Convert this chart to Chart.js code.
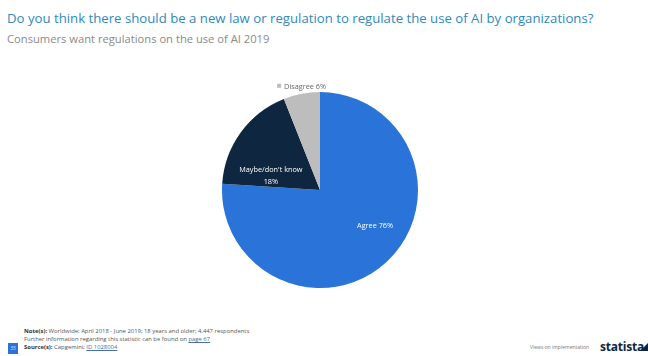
<!DOCTYPE html>
<html lang="en">
<head>
    <meta charset="UTF-8">
    <title>Consumers want regulations on the use of AI 2019</title>
    <script src="https://cdn.jsdelivr.net/npm/chart.js"></script>
    <style>
        body {
            margin: 0;
            width: 648px;
            height: 356px;
            background-color: #ffffff;
            font-family: "Open Sans", Arial, sans-serif;
            position: relative;
            overflow: hidden;
        }
        #title {
            position: absolute;
            left: 7px;
            top: 9px;
            font-size: 13.2px;
            color: #2f8ac0;
            white-space: nowrap;
        }
        #subtitle {
            position: absolute;
            left: 7px;
            top: 31px;
            font-size: 11.2px;
            color: #8a8a8a;
            white-space: nowrap;
        }
        #chartBox {
            position: absolute;
            left: 200px;
            top: 70px;
            width: 240px;
            height: 240px;
        }
        .note {
            position: absolute;
            left: 24px;
            font-size: 5.9px;
            color: #555;
            white-space: nowrap;
        }
        .note b { color: #333; }
        .note u { color: #4a6fa0; }
        #pageNo {
            position: absolute;
            left: 8px;
            top: 343px;
            width: 10px;
            height: 11px;
            background-color: #2a74d9;
            color: #cfe0f5;
            font-size: 5px;
            text-align: center;
            line-height: 11px;
        }
        #views {
            position: absolute;
            left: 530px;
            top: 344px;
            font-size: 5px;
            color: #777;
            white-space: nowrap;
        }
        #logo {
            position: absolute;
            left: 600px;
            top: 338px;
            font-size: 12px;
            font-weight: bold;
            color: #0f2640;
            letter-spacing: -0.2px;
        }
        #logoMark {
            position: absolute;
            left: 640px;
            top: 343px;
            width: 0;
            height: 0;
            border-left: 8px solid transparent;
            border-bottom: 8px solid #0f2640;
        }
    </style>
</head>
<body>
    <div id="title">Do you think there should be a new law or regulation to regulate the use of AI by organizations?</div>
    <div id="subtitle">Consumers want regulations on the use of AI 2019</div>

    <div id="chartBox"><canvas id="pieChart" width="240" height="240"></canvas></div>

    <div class="note" style="top: 327px;"><b>Note(s):</b> Worldwide; April 2018 - June 2019; 18 years and older; 4,447 respondents</div>
    <div class="note" style="top: 335px;">Further information regarding this statistic can be found on <u>page 67</u></div>
    <div class="note" style="top: 343px;"><b>Source(s):</b> Capgemini; <u>ID 1028004</u></div>
    <div id="pageNo">35</div>
    <div id="views">Views on implementation</div>
    <div id="logo">statista</div>
    <div id="logoMark"></div>

    <script>
        const categories = ['Agree', "Maybe/don't know", 'Disagree'];
        const shares = [76, 18, 6];
        const sliceColors = ['#2a74d9', '#0f2640', '#bdbdbd'];

        // labels drawn at each arc's position; the small slice gets an outside label
        const sliceLabels = {
            id: 'sliceLabels',
            afterDatasetsDraw(chart) {
                const ctx = chart.ctx;
                const arcs = chart.getDatasetMeta(0).data;
                ctx.save();
                ctx.font = '7.3px "Open Sans", Arial, sans-serif';
                ctx.textAlign = 'center';
                arcs.forEach((arc, i) => {
                    const text = categories[i] + ' ' + shares[i] + '%';
                    const mid = (arc.startAngle + arc.endAngle) / 2;
                    const R = arc.outerRadius;
                    if (i === 2) {
                        const r = R + 3;
                        const x = arc.x + Math.cos(mid) * r;
                        const y = arc.y + Math.sin(mid) * r;
                        ctx.fillStyle = '#666';
                        ctx.textBaseline = 'bottom';
                        ctx.fillText(text, x + 4, y);
                        const w = ctx.measureText(text).width;
                        ctx.fillStyle = '#bdbdbd';
                        ctx.fillRect(x + 4 - w / 2 - 7, y - 7, 4, 4);
                    } else if (i === 1) {
                        const x = arc.x + Math.cos(mid) * R * 0.62;
                        const y = arc.y + Math.sin(mid) * R * 0.62 + R * 0.22;
                        ctx.fillStyle = '#ffffff';
                        ctx.textBaseline = 'middle';
                        ctx.fillText(categories[i], x, y - 6);
                        ctx.fillText(shares[i] + '%', x, y + 6);
                    } else {
                        const a = mid - 0.24;
                        const x = arc.x + Math.cos(a) * R * 0.67;
                        const y = arc.y + Math.sin(a) * R * 0.67;
                        ctx.fillStyle = '#ffffff';
                        ctx.textBaseline = 'middle';
                        ctx.fillText(text, x, y);
                    }
                });
                ctx.restore();
            }
        };

        new Chart(document.getElementById('pieChart'), {
            type: 'pie',
            data: {
                labels: categories,
                datasets: [{
                    data: shares,
                    backgroundColor: sliceColors,
                    borderColor: '#ffffff',
                    borderWidth: 0
                }]
            },
            options: {
                responsive: false,
                animation: false,
                layout: { padding: 22 },
                plugins: {
                    legend: { display: false },
                    tooltip: { enabled: false }
                }
            },
            plugins: [sliceLabels]
        });
    </script>
</body>
</html>
